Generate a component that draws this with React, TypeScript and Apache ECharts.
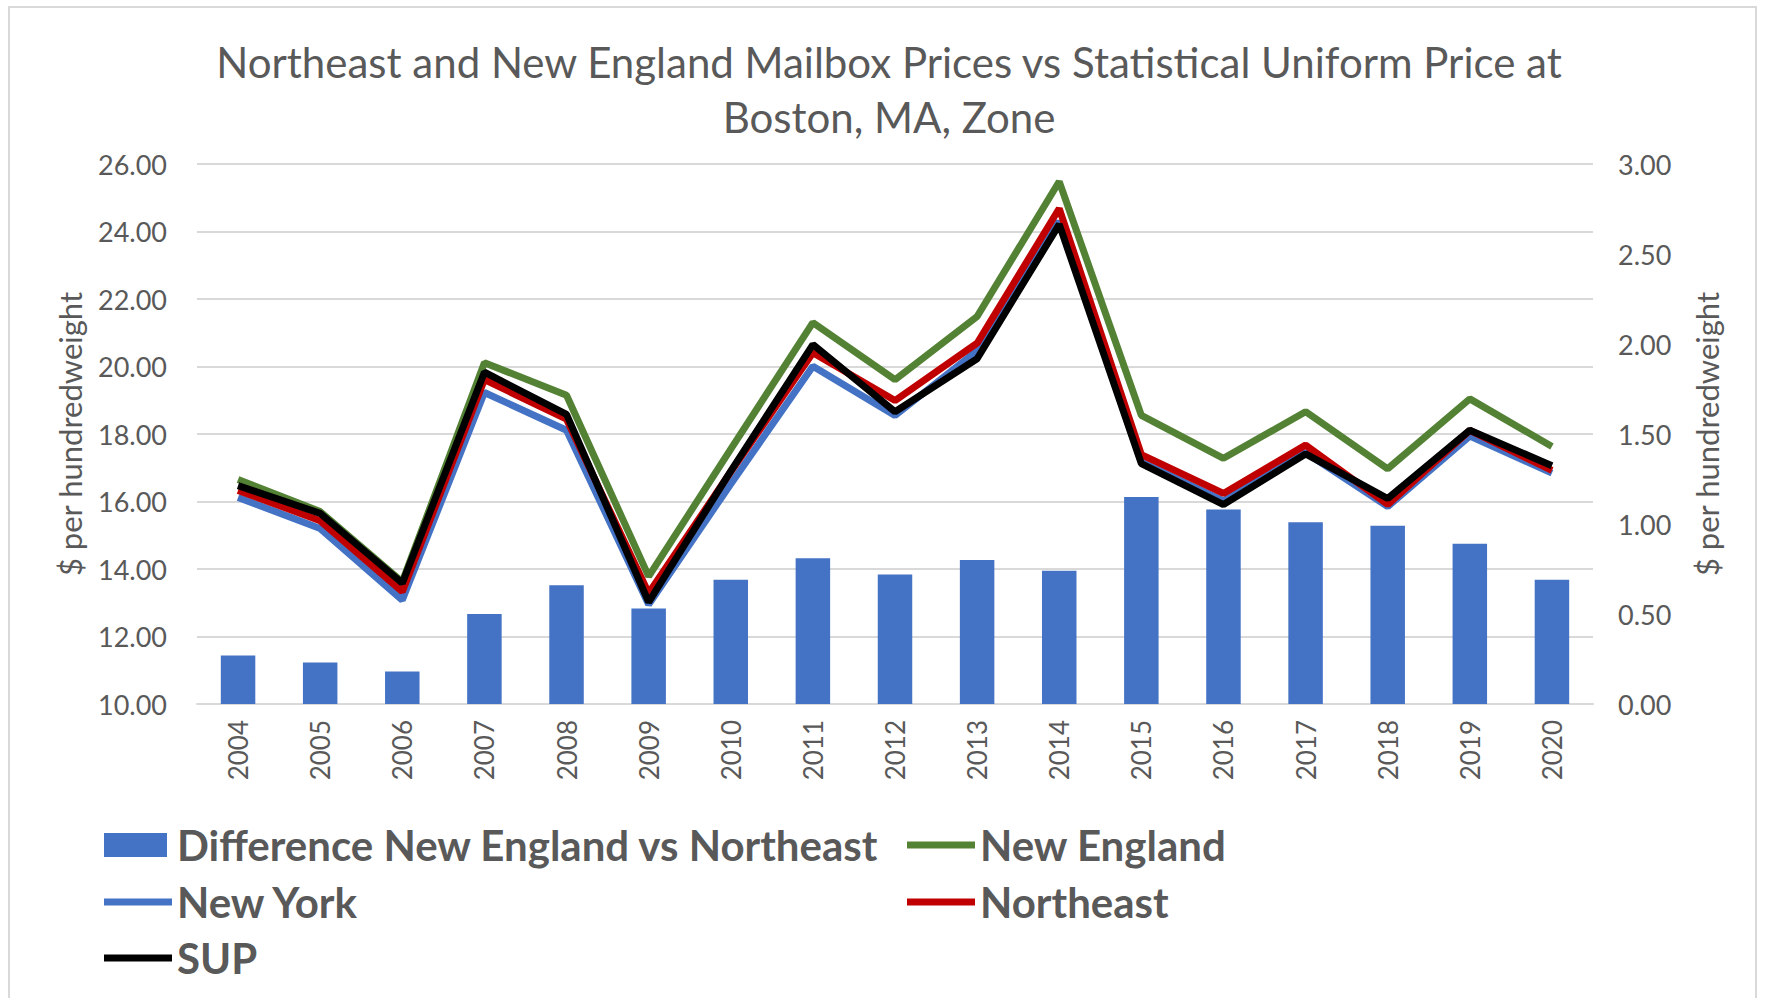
import React, { useEffect, useRef } from "react";
import * as echarts from "echarts";

const years = ["2004","2005","2006","2007","2008","2009","2010","2011","2012","2013","2014","2015","2016","2017","2018","2019","2020"];
const difference = [0.27, 0.23, 0.18, 0.50, 0.66, 0.53, 0.69, 0.81, 0.72, 0.80, 0.74, 1.15, 1.08, 1.01, 0.99, 0.89, 0.69];
const newEngland = [16.65, 15.70, 13.62, 20.11, 19.15, 13.78, 17.55, 21.30, 19.61, 21.48, 25.48, 18.55, 17.28, 18.66, 16.97, 19.04, 17.63];
const newYork = [16.12, 15.20, 13.08, 19.23, 18.11, 12.95, 16.52, 20.01, 18.55, 20.47, 24.30, 17.17, 16.02, 17.45, 15.85, 17.94, 16.84];
const northeast = [16.33, 15.43, 13.33, 19.61, 18.44, 13.28, 16.88, 20.41, 18.99, 20.69, 24.68, 17.39, 16.24, 17.67, 15.91, 18.11, 16.92];
const sup = [16.47, 15.65, 13.58, 19.83, 18.58, 13.02, 16.90, 20.65, 18.66, 20.23, 24.21, 17.12, 15.91, 17.41, 16.09, 18.11, 17.06];

const leftTicks = { min: 10, max: 26, interval: 2 };
const rightTicks = { min: 0, max: 3, interval: 0.5 };

const FONT = "Lato";
const GREY = "#595959";

export default function App() {
  const ref = useRef<HTMLDivElement>(null);
  useEffect(() => {
    if (!ref.current) return;
    const chart = echarts.init(ref.current, undefined, { renderer: "svg" });
    const mkLegend = (name: string, left: number, top: number, w: number, h: number, padLeft: number) => ({
      data: [name],
      left,
      top,
      padding: 0,
      itemWidth: w,
      itemHeight: h,
      icon: "rect",
      textStyle: { fontFamily: FONT, fontSize: 42, fontWeight: "bold", color: GREY, lineHeight: 46, padding: [0, 0, 0, padLeft] },
    });
    chart.setOption({
      animation: false,
      backgroundColor: "#ffffff",
      textStyle: { fontFamily: FONT },
      title: {
        text: "Northeast and New England Mailbox Prices vs Statistical Uniform Price at\nBoston, MA, Zone",
        left: 884,
        textAlign: "center",
        top: 29,
        textStyle: { fontFamily: FONT, fontSize: 42, fontWeight: "normal", color: GREY, lineHeight: 55 },
      },
      graphic: [
        {
          type: "rect",
          shape: { x: 9, y: 7, width: 1747, height: 1010 },
          style: { fill: "none", stroke: "#D9D9D9", lineWidth: 2 },
          silent: true,
        },
      ],
      legend: [
        mkLegend("Difference New England vs Northeast", 104, 822, 63, 24, 5),
        mkLegend("New England", 907, 822, 68, 7, 0),
        mkLegend("New York", 104, 879, 68, 7, 0),
        mkLegend("Northeast", 907, 879, 68, 7, 0),
        mkLegend("SUP", 104, 935, 68, 7, 0),
      ],
      grid: { left: 197, right: 172, top: 164, bottom: 294 },
      xAxis: {
        type: "category",
        data: years,
        boundaryGap: true,
        axisLine: { show: true, lineStyle: { color: "#D9D9D9", width: 2 } },
        axisTick: { show: false },
        axisLabel: { rotate: 90, fontFamily: FONT, fontSize: 26, color: GREY, margin: 16, interval: 0 },
      },
      yAxis: [
        {
          type: "value",
          ...leftTicks,
          name: "$ per hundredweight",
          nameLocation: "middle",
          nameGap: 112,
          nameTextStyle: { fontFamily: FONT, fontSize: 31, color: GREY },
          axisLine: { show: false },
          axisTick: { show: false },
          splitLine: { show: true, lineStyle: { color: "#D9D9D9", width: 2 } },
          axisLabel: { fontFamily: FONT, fontSize: 27, color: GREY, margin: 30, formatter: (v: number) => v.toFixed(2) },
        },
        {
          type: "value",
          ...rightTicks,
          name: "$ per hundredweight",
          nameLocation: "middle",
          nameGap: 98,
          nameTextStyle: { fontFamily: FONT, fontSize: 31, color: GREY },
          axisLine: { show: false },
          axisTick: { show: false },
          splitLine: { show: false },
          axisLabel: { fontFamily: FONT, fontSize: 27, color: GREY, margin: 25, formatter: (v: number) => v.toFixed(2) },
        },
      ],
      series: [
        {
          name: "Difference New England vs Northeast",
          type: "bar",
          yAxisIndex: 1,
          data: difference,
          barWidth: "42%",
          itemStyle: { color: "#4472C4" },
          z: 1,
        },
        {
          name: "New England",
          type: "line",
          data: newEngland,
          symbol: "none",
          lineStyle: { color: "#548235", width: 7 },
          itemStyle: { color: "#548235" },
          z: 2,
        },
        {
          name: "New York",
          type: "line",
          data: newYork,
          symbol: "none",
          lineStyle: { color: "#4472C4", width: 7 },
          itemStyle: { color: "#4472C4" },
          z: 3,
        },
        {
          name: "Northeast",
          type: "line",
          data: northeast,
          symbol: "none",
          lineStyle: { color: "#C00000", width: 7 },
          itemStyle: { color: "#C00000" },
          z: 4,
        },
        {
          name: "SUP",
          type: "line",
          data: sup,
          symbol: "none",
          lineStyle: { color: "#000000", width: 7 },
          itemStyle: { color: "#000000" },
          z: 5,
        },
      ],
    });
    return () => chart.dispose();
  }, []);
  return <div ref={ref} style={{ position: "absolute", left: 0, top: 0, width: 1765, height: 998 }} />;
}
